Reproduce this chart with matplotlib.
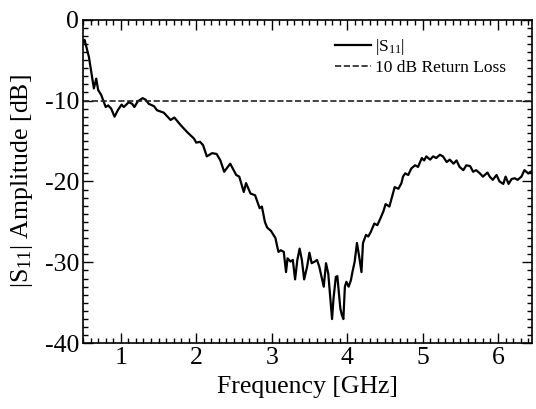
import numpy as np
import matplotlib
matplotlib.use('Agg')
from matplotlib import pyplot as plt
from matplotlib.ticker import MultipleLocator

freq_ghz = [0.505, 0.52, 0.577, 0.643, 0.674, 0.70, 0.74, 0.80, 0.833, 0.873,
            0.917, 0.96, 1.01, 1.04, 1.106, 1.15, 1.18, 1.225, 1.29, 1.33,
            1.37, 1.44, 1.48, 1.57, 1.66, 1.71, 1.79, 1.88, 1.97, 2.00,
            2.05, 2.09, 2.14, 2.21, 2.27, 2.32, 2.37, 2.45, 2.53, 2.57,
            2.63, 2.66, 2.72, 2.78, 2.84, 2.87, 2.91, 2.94, 2.99, 3.05,
            3.07, 3.09, 3.12, 3.16, 3.19, 3.21, 3.25, 3.28, 3.31, 3.34,
            3.37, 3.40, 3.43, 3.47, 3.50, 3.53, 3.57, 3.60, 3.63, 3.69,
            3.72, 3.75, 3.80, 3.82, 3.85, 3.87, 3.91, 3.93, 3.95, 3.97,
            3.99, 4.02, 4.05, 4.07, 4.10, 4.13, 4.16, 4.19, 4.21, 4.25,
            4.28, 4.31, 4.36, 4.40, 4.43, 4.48, 4.51, 4.56, 4.60, 4.63,
            4.68, 4.72, 4.74, 4.77, 4.81, 4.85, 4.90, 4.94, 4.99, 5.02,
            5.05, 5.10, 5.14, 5.18, 5.23, 5.27, 5.32, 5.36, 5.41, 5.45,
            5.49, 5.54, 5.58, 5.63, 5.67, 5.71, 5.76, 5.80, 5.86, 5.89,
            5.93, 5.98, 6.02, 6.07, 6.10, 6.14, 6.18, 6.22, 6.26, 6.31,
            6.35, 6.40, 6.45]
s11_db = [-2.8, -2.5, -4.6, -8.5, -7.3, -8.7, -9.3, -10.8, -10.6, -11.0,
          -12.0, -11.2, -10.5, -10.8, -10.2, -10.4, -10.8, -10.1, -9.7, -9.9,
          -10.4, -10.7, -11.2, -11.5, -12.4, -12.1, -13.0, -13.9, -14.7, -15.2,
          -15.1, -15.5, -16.9, -16.5, -16.6, -17.4, -18.8, -17.8, -19.2, -19.4,
          -21.3, -20.2, -21.5, -21.7, -23.3, -23.1, -25.0, -25.7, -26.1, -27.0,
          -27.9, -28.7, -28.5, -28.7, -31.2, -29.5, -29.9, -29.7, -32.1, -29.7,
          -28.3, -29.7, -32.1, -30.5, -28.8, -30.1, -29.9, -29.7, -30.5, -33.0,
          -30.1, -31.4, -37.0, -34.4, -31.8, -31.7, -35.7, -36.5, -37.0, -33.0,
          -32.4, -33.0, -32.2, -31.2, -29.9, -27.6, -29.3, -31.2, -27.6, -26.6,
          -26.8, -26.3, -25.2, -25.4, -24.8, -23.7, -22.8, -23.1, -21.7, -20.7,
          -20.9, -20.2, -19.4, -19.0, -19.2, -18.4, -18.0, -18.2, -17.1, -17.4,
          -16.9, -17.3, -16.9, -17.1, -16.7, -16.9, -17.6, -17.3, -17.8, -17.4,
          -18.2, -18.6, -18.0, -18.1, -18.8, -18.6, -19.0, -19.4, -18.9, -19.4,
          -19.8, -19.2, -20.0, -20.3, -19.4, -20.3, -19.7, -19.6, -19.8, -19.4,
          -18.6, -19.0, -18.7]
return_loss_db = -10

plt.rcParams['font.family'] = ['Liberation Serif', 'DejaVu Serif']
plt.rcParams['mathtext.fontset'] = 'custom'
plt.rcParams['mathtext.rm'] = 'Liberation Serif'
plt.rcParams['mathtext.it'] = 'Liberation Serif:italic'
plt.rcParams['axes.unicode_minus'] = False

fig = plt.figure(figsize=(5.36, 4.09), dpi=100)
ax = fig.add_axes([0.155, 0.1606, 0.8375, 0.7914])

ax.plot(freq_ghz, s11_db, color='black', lw=1.6, label='|S$_{11}$|')
ax.axhline(return_loss_db, color='#222222', lw=1.2, ls='--',
           label='10 dB Return Loss')

ax.set_xlim(0.5, 6.45)
ax.set_ylim(-40, 0)
ax.xaxis.set_major_locator(MultipleLocator(1))
ax.xaxis.set_minor_locator(MultipleLocator(0.1))
ax.yaxis.set_major_locator(MultipleLocator(10))
ax.yaxis.set_minor_locator(MultipleLocator(1))
ax.tick_params(which='both', direction='in', top=True, right=True,
               labelsize=18.5, width=1)
ax.tick_params(which='major', length=7, pad=3)
ax.tick_params(which='minor', length=3.6)
for sp in ax.spines.values():
    sp.set_linewidth(1.2)

ax.set_xlabel('Frequency [GHz]', fontsize=18.5, labelpad=5)
ax.set_ylabel('|S$_{11}$| Amplitude [dB]', fontsize=18.5, labelpad=7)

ax.legend(loc='upper left', bbox_to_anchor=(0.561, 0.945), frameon=False,
          fontsize=12.5, borderpad=0, borderaxespad=0, handlelength=2.1,
          handletextpad=0.2, labelspacing=0.15)

fig.savefig('out.png', dpi=100)
